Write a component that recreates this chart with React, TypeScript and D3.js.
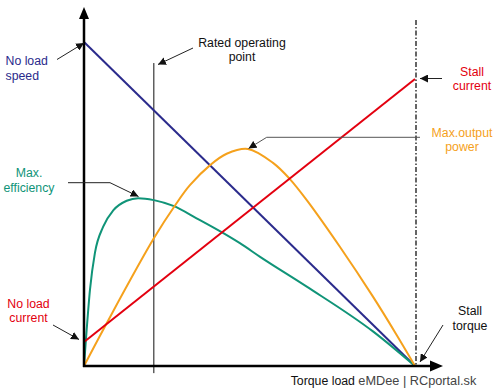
import React from 'react';
import * as d3 from 'd3';

// torque as a fraction of stall torque, curves in % of full scale
const speedTorque = [0, 1];
const speedValues = [100, 0];

const currentTorque = [0, 1];
const currentValues = [7.4, 88.6];

const powerTorque = [0, 0.069, 0.211, 0.278, 0.32, 0.381, 0.431, 0.495, 0.571, 0.622, 0.673, 0.773, 0.873, 0.945, 1];
const powerValues = [0, 13.3, 39.4, 50.0, 55.8, 62.0, 65.5, 67.0, 62.7, 57.7, 51.2, 36.8, 21.4, 9.5, 0];

const effTorque = [0, 0.008, 0.018, 0.033, 0.058, 0.089, 0.129, 0.164, 0.211, 0.27, 0.34, 0.421, 0.471, 0.532, 0.673, 0.874, 1];
const effValues = [0, 11.1, 23.5, 34.9, 43.0, 48.1, 51.0, 51.8, 51.2, 49.4, 45.6, 41.0, 37.9, 33.7, 24.5, 10.6, 0];

const ratedTorque = 0.211;
const stallTorque = 1;

const W = 500;
const H = 390;
const FONT = '"Liberation Sans", Arial, sans-serif';

const x = d3.scaleLinear().domain([0, 1]).range([84, 415]);
const y = d3.scaleLinear().domain([0, 100]).range([366, 42]);

const zip = (ts: number[], vs: number[]) => ts.map((t, i) => [t, vs[i]] as [number, number]);

const straight = d3.line<[number, number]>().x(d => x(d[0])).y(d => y(d[1]));
const smooth = d3.line<[number, number]>().x(d => x(d[0])).y(d => y(d[1])).curve(d3.curveMonotoneX);
const rounded = d3.line<[number, number]>().x(d => x(d[0])).y(d => y(d[1])).curve(d3.curveCatmullRom.alpha(0.5));

const NAVY = '#2b2b8c';
const RED = '#e3000f';
const ORANGE = '#f5a11c';
const GREEN = '#109478';

function Label({ cx, lines, fill, y0, dy = 14.5 }: { cx: number; lines: string[]; fill: string; y0: number; dy?: number }) {
  return (
    <text x={cx} y={y0} fill={fill} fontSize={12.3} fontFamily={FONT} textAnchor="middle">
      {lines.map((l, i) => (
        <tspan key={i} x={cx} dy={i === 0 ? 0 : dy}>{l}</tspan>
      ))}
    </text>
  );
}

export default function App() {
  return (
    <svg width={W} height={H} style={{ position: 'absolute', left: 0, top: 0, background: '#fff' }}>
      <defs>
        <marker id="arr" markerUnits="userSpaceOnUse" markerWidth={9} markerHeight={8} refX={8} refY={4} orient="auto">
          <path d="M0,0 L8,4 L0,8 Z" fill="#111" />
        </marker>
      </defs>

      {/* reference verticals */}
      <line x1={x(ratedTorque)} x2={x(ratedTorque)} y1={y(93.5)} y2={y(-2.2)} stroke="#111" strokeWidth={1} />
      <line x1={x(stallTorque) + 1} x2={x(stallTorque) + 1} y1={y(106.8)} y2={y(0)} stroke="#333" strokeWidth={1.5} strokeDasharray="5,2,1.5,2" />

      {/* curves */}
      <path d={straight(zip(speedTorque, speedValues)) || ''} fill="none" stroke={NAVY} strokeWidth={2} />
      <path d={smooth(zip(effTorque, effValues)) || ''} fill="none" stroke={GREEN} strokeWidth={2} />
      <path d={rounded(zip(powerTorque, powerValues)) || ''} fill="none" stroke={ORANGE} strokeWidth={2} />
      <path d={straight(zip(currentTorque, currentValues)) || ''} fill="none" stroke={RED} strokeWidth={2} />

      {/* axes */}
      <line x1={84} x2={84} y1={367} y2={16} stroke="#000" strokeWidth={2.5} />
      <path d="M84,7 L79,19 L89,19 Z" fill="#000" />
      <line x1={83} x2={432} y1={366} y2={366} stroke="#000" strokeWidth={2.5} />
      <path d="M443,366 L430,360.5 L430,371.5 Z" fill="#000" />

      {/* leader arrows */}
      <g stroke="#222" strokeWidth={1} fill="none">
        <line x1={57} y1={59.5} x2={84} y2={43} markerEnd="url(#arr)" />
        <line x1={193} y1={48} x2={158} y2={64.5} markerEnd="url(#arr)" />
        <line x1={442} y1={78.5} x2={420} y2={78.5} markerEnd="url(#arr)" />
        <polyline points="420,137.3 266.7,137.3 248.5,148.5" stroke="#555" markerEnd="url(#arr)" />
        <polyline points="68,182.7 110,182.7 138.5,196.5" markerEnd="url(#arr)" />
        <line x1={53} y1={325} x2={79} y2={339.5} markerEnd="url(#arr)" />
        <line x1={443} y1={325} x2={420} y2={362} markerEnd="url(#arr)" />
      </g>

      {/* labels */}
      <text x={5.5} y={65} fill={NAVY} fontSize={12.3} fontFamily={FONT}>
        <tspan x={5.5}>No load</tspan>
        <tspan x={5.5} dy={14.5}>speed</tspan>
      </text>
      <Label cx={242} y0={46.7} lines={['Rated operating', 'point']} fill="#111" />
      <Label cx={472} y0={75.7} lines={['Stall', 'current']} fill={RED} />
      <Label cx={462} y0={136.7} lines={['Max.output', 'power']} fill={ORANGE} />
      <Label cx={29} y0={177} lines={['Max.', 'efficiency']} fill={GREEN} />
      <Label cx={28.5} y0={308.3} lines={['No load', 'current']} fill={RED} dy={13.8} />
      <Label cx={470} y0={315} lines={['Stall', 'torque']} fill="#111" />

      <text x={290.7} y={385} fill="#111" fontSize={12.3} fontFamily={FONT}>Torque load</text>
      <text x={358.3} y={385} fill="#444" fontSize={12.8} fontFamily={FONT} textLength={118} lengthAdjust="spacingAndGlyphs">eMDee | RCportal.sk</text>
    </svg>
  );
}
